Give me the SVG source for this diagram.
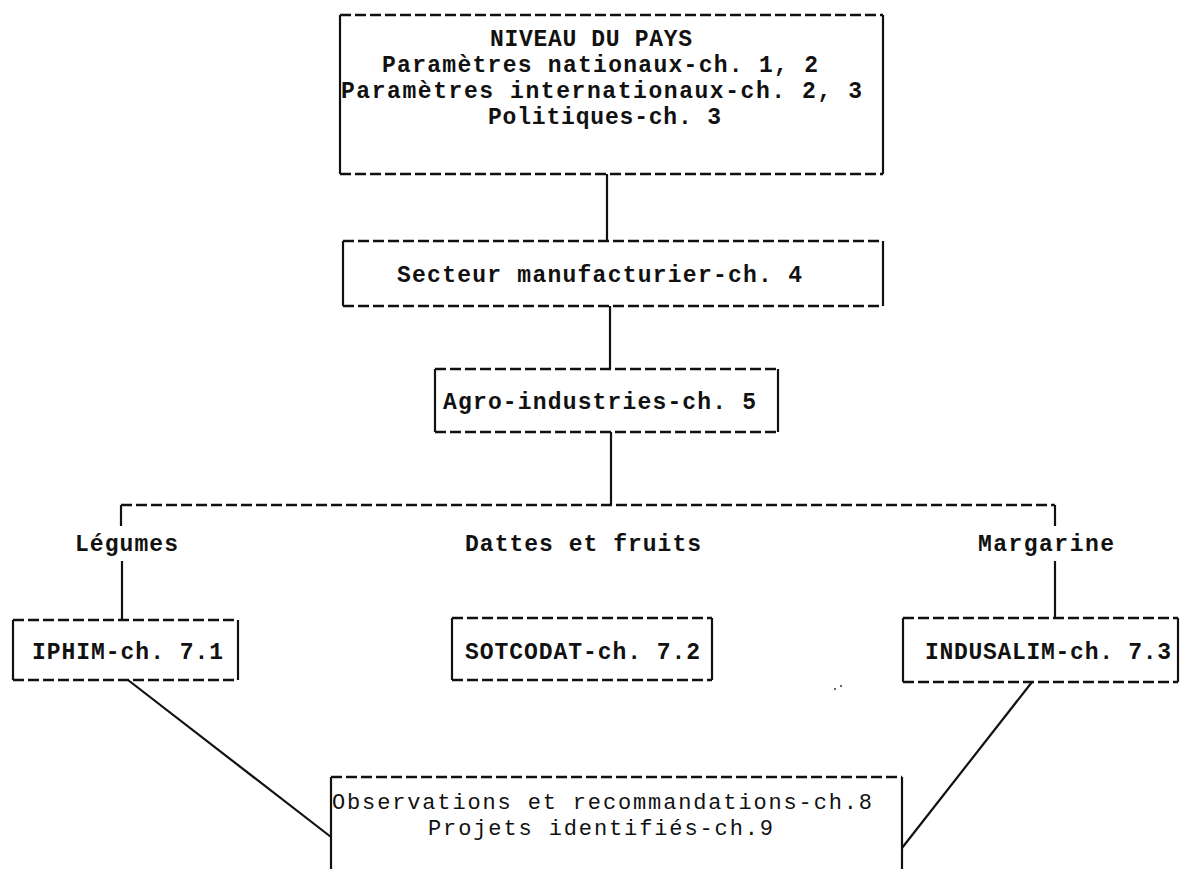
<svg xmlns="http://www.w3.org/2000/svg" width="1181" height="869" viewBox="0 0 1181 869">
  <style>
    .dash { stroke: #111; stroke-width: 2.6; stroke-dasharray: 11 4; fill: none; }
    .solid { stroke: #111; stroke-width: 2.2; fill: none; }
    .t { font-family: "Liberation Mono", "DejaVu Sans Mono", monospace; font-size: 23px; font-weight: bold; fill: #111; }
    .tl { font-family: "Liberation Mono", "DejaVu Sans Mono", monospace; font-size: 22px; fill: #111; }
  </style>
  <rect width="1181" height="869" fill="#fff"/>

  <g id="connectors">
    <line class="solid" x1="607" y1="174" x2="607" y2="241"/>
    <line class="solid" x1="610" y1="306" x2="610" y2="369"/>
    <line class="solid" x1="611" y1="432" x2="611" y2="505"/>
    <line class="dash" x1="121" y1="505" x2="1055" y2="505"/>
    <line class="solid" x1="121" y1="505" x2="121" y2="526"/>
    <line class="solid" x1="1055" y1="505" x2="1055" y2="526"/>
    <line class="solid" x1="122" y1="561" x2="122" y2="620"/>
    <line class="solid" x1="1055" y1="561" x2="1055" y2="618"/>
    <line class="solid" x1="128" y1="680" x2="331" y2="837"/>
    <line class="solid" x1="1032" y1="682" x2="902" y2="848"/>
  </g>

  <g id="niveau-pays">
    <line class="dash" x1="340" y1="15" x2="883" y2="15"/>
    <line class="dash" x1="340" y1="174" x2="883" y2="174"/>
    <line class="solid" x1="340" y1="15" x2="340" y2="174"/>
    <line class="solid" x1="883" y1="15" x2="883" y2="174"/>
    <text class="t" x="490" y="46" textLength="202" lengthAdjust="spacing">NIVEAU DU PAYS</text>
    <text class="t" x="382" y="72" textLength="436" lengthAdjust="spacing">Paramètres nationaux-ch. 1, 2</text>
    <text class="t" x="341" y="98" textLength="521" lengthAdjust="spacing">Paramètres internationaux-ch. 2, 3</text>
    <text class="t" x="488" y="124" textLength="233" lengthAdjust="spacing">Politiques-ch. 3</text>
  </g>

  <g id="secteur">
    <line class="dash" x1="343" y1="241" x2="883" y2="241"/>
    <line class="dash" x1="343" y1="306" x2="883" y2="306"/>
    <line class="solid" x1="343" y1="241" x2="343" y2="306"/>
    <line class="solid" x1="883" y1="241" x2="883" y2="306"/>
    <text class="t" x="397" y="282" textLength="405" lengthAdjust="spacing">Secteur manufacturier-ch. 4</text>
  </g>

  <g id="agro">
    <line class="dash" x1="435" y1="369" x2="778" y2="369"/>
    <line class="dash" x1="435" y1="432" x2="778" y2="432"/>
    <line class="solid" x1="435" y1="369" x2="435" y2="432"/>
    <line class="solid" x1="778" y1="369" x2="778" y2="432"/>
    <text class="t" x="443" y="409" textLength="313" lengthAdjust="spacing">Agro-industries-ch. 5</text>
  </g>

  <g id="legumes">
    <text class="t" x="75" y="551" textLength="103" lengthAdjust="spacing">Légumes</text>
  </g>
  <g id="dattes">
    <text class="t" x="465" y="551" textLength="236" lengthAdjust="spacing">Dattes et fruits</text>
  </g>
  <g id="margarine">
    <text class="t" x="978" y="551" textLength="136" lengthAdjust="spacing">Margarine</text>
  </g>

  <g id="iphim">
    <line class="dash" x1="13" y1="620" x2="238" y2="620"/>
    <line class="dash" x1="13" y1="680" x2="238" y2="680"/>
    <line class="solid" x1="13" y1="620" x2="13" y2="680"/>
    <line class="solid" x1="238" y1="620" x2="238" y2="680"/>
    <text class="t" x="32" y="659" textLength="191" lengthAdjust="spacing">IPHIM-ch. 7.1</text>
  </g>

  <g id="sotcodat">
    <line class="dash" x1="452" y1="618" x2="712" y2="618"/>
    <line class="dash" x1="452" y1="680" x2="712" y2="680"/>
    <line class="solid" x1="452" y1="618" x2="452" y2="680"/>
    <line class="solid" x1="712" y1="618" x2="712" y2="680"/>
    <text class="t" x="465" y="659" textLength="235" lengthAdjust="spacing">SOTCODAT-ch. 7.2</text>
  </g>

  <g id="indusalim">
    <line class="dash" x1="903" y1="618" x2="1178" y2="618"/>
    <line class="dash" x1="903" y1="682" x2="1178" y2="682"/>
    <line class="solid" x1="903" y1="618" x2="903" y2="682"/>
    <line class="solid" x1="1178" y1="618" x2="1178" y2="682"/>
    <text class="t" x="925" y="659" textLength="246" lengthAdjust="spacing">INDUSALIM-ch. 7.3</text>
  </g>

  <g id="observations">
    <line class="dash" x1="331" y1="777" x2="902" y2="777"/>
    <line class="solid" x1="331" y1="777" x2="331" y2="869"/>
    <line class="solid" x1="902" y1="777" x2="902" y2="869"/>
    <text class="tl" x="332" y="809" textLength="540" lengthAdjust="spacing">Observations et recommandations-ch.8</text>
    <text class="tl" x="428" y="835" textLength="345" lengthAdjust="spacing">Projets identifiés-ch.9</text>
  </g>

  <g id="specks">
    <circle cx="835" cy="689" r="1" fill="#333"/>
    <circle cx="841" cy="686" r="1" fill="#333"/>
  </g>
</svg>
